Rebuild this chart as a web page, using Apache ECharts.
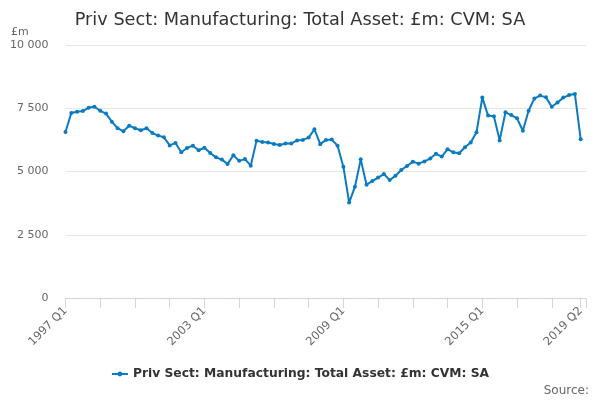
<!DOCTYPE html>
<html>
<head>
<meta charset="utf-8">
<script src="https://cdn.jsdelivr.net/npm/echarts@6/dist/echarts.min.js"></script>
<style>
  html, body { margin: 0; padding: 0; background: #fff; }
  #chart { width: 600px; height: 400px; }
</style>
</head>
<body>
<div id="chart"></div>
<script>
// quarters 1997 Q1 .. 2019 Q2
var quarters = [];
for (var y = 1997; y <= 2019; y++) {
    for (var q = 1; q <= 4; q++) {
        if (y == 2019 && q > 2) break;
        quarters.push(y + ' Q' + q);
    }
}
// trailing blank slot, the axis runs one quarter past the last point
var categories = quarters.concat(['']);

var seriesName = 'Priv Sect: Manufacturing: Total Asset: £m: CVM: SA';
var totalAsset = [
    6560, 7310, 7360, 7390, 7520, 7560, 7400, 7290, 6970, 6710,
    6590, 6810, 6710, 6630, 6710, 6520, 6420, 6350, 6030, 6130,
    5760, 5930, 6020, 5840, 5940, 5730, 5560, 5470, 5300, 5640,
    5420, 5490, 5230, 6220, 6170, 6150, 6090, 6050, 6110, 6110,
    6230, 6250, 6340, 6670, 6080, 6250, 6260, 6020, 5190, 3770,
    4400, 5480, 4480, 4620, 4760, 4900, 4660, 4830, 5060, 5220,
    5390, 5310, 5400, 5510, 5700, 5590, 5880, 5760, 5720, 5960,
    6150, 6550, 7920, 7210, 7180, 6230, 7340, 7230, 7100, 6610,
    7400, 7890, 8000, 7930, 7560, 7730, 7920, 8020, 8060, 6270
];
var yTicks = [0, 2500, 5000, 7500, 10000];

var lastIdx = quarters.length - 1;

var chart = echarts.init(document.getElementById('chart'), null, { renderer: 'canvas' });
var option = {
    animation: false,
    textStyle: { fontFamily: 'DejaVu Sans' },
    title: {
        text: 'Priv Sect: Manufacturing: Total Asset: £m: CVM: SA',
        left: 'center',
        top: 6,
        textStyle: { fontSize: 17.7, fontWeight: 'normal', color: '#333333', fontFamily: 'DejaVu Sans' }
    },
    legend: {
        data: [seriesName],
        bottom: 15,
        left: 'center',
        itemWidth: 16,
        itemHeight: 6,
        itemGap: 4,
        textStyle: { fontSize: 12.3, fontWeight: 'bold', color: '#333333', fontFamily: 'DejaVu Sans' }
    },
    grid: {
        left: 65.5,
        right: 13.5,
        top: 45,
        bottom: 102
    },
    xAxis: {
        type: 'category',
        data: categories,
        boundaryGap: false,
        axisLine: { lineStyle: { color: '#ccd6eb', width: 1 } },
        axisTick: {
            show: true,
            length: 10,
            lineStyle: { color: '#ccd6eb' },
            interval: function (i) { return i % 6 == 0 || i == lastIdx; }
        },
        axisLabel: {
            rotate: 45,
            color: '#666666',
            fontSize: 11.5,
            margin: 11,
            interval: function (i) { return i % 24 == 0 || i == lastIdx; }
        },
        splitLine: { show: false }
    },
    yAxis: {
        type: 'value',
        min: yTicks[0],
        max: yTicks[yTicks.length - 1],
        interval: 2500,
        axisLine: { show: false },
        axisTick: { show: false },
        axisLabel: {
            color: '#666666',
            fontSize: 11,
            margin: 17,
            formatter: function (v) {
                return String(v).replace(/\B(?=(\d{3})+(?!\d))/g, ' ');
            }
        },
        splitLine: { lineStyle: { color: '#e6e6e6', width: 1 } }
    },
    series: [{
        name: seriesName,
        type: 'line',
        data: totalAsset,
        color: '#0a7bc1',
        lineStyle: { width: 2 },
        symbol: 'circle',
        symbolSize: 4,
        showSymbol: true,
        showAllSymbol: true
    }],
    graphic: [{
        type: 'text',
        left: 11,
        top: 27,
        style: { text: '£m', fill: '#666666', fontSize: 11, fontFamily: 'DejaVu Sans' }
    }, {
        type: 'text',
        right: 11,
        bottom: 3,
        style: { text: 'Source:', fill: '#666666', fontSize: 12, fontFamily: 'DejaVu Sans' }
    }]
};
chart.setOption(option);
</script>
</body>
</html>
